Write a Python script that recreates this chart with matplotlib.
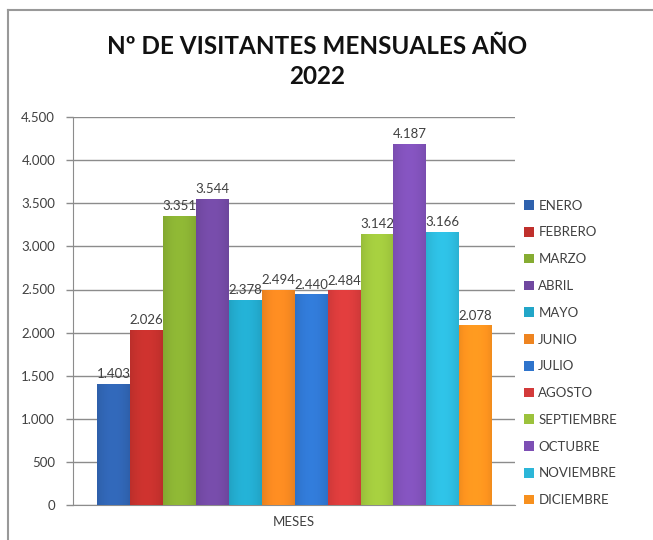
import numpy as np
import matplotlib.pyplot as plt
import matplotlib.colors as mcolors
from matplotlib.patches import Patch
from matplotlib.lines import Line2D
from matplotlib.ticker import FuncFormatter, MultipleLocator

plt.rcParams['font.family'] = ['Lato', 'DejaVu Sans']

meses = ['ENERO', 'FEBRERO', 'MARZO', 'ABRIL', 'MAYO', 'JUNIO', 'JULIO',
         'AGOSTO', 'SEPTIEMBRE', 'OCTUBRE', 'NOVIEMBRE', 'DICIEMBRE']
visitantes = [1403, 2026, 3351, 3544, 2378, 2494, 2440, 2484, 3142, 4187, 3166, 2078]
colores = ['#2f62ae', '#c0302c', '#86ac32', '#7048a0', '#22a6c8', '#ee8420',
           '#2f74cc', '#d33a3a', '#9cc23c', '#7d4fb4', '#2cb6d8', '#f7901e']

fig = plt.figure(figsize=(6.53, 5.4), dpi=100)
ax = fig.add_axes([0.112, 0.065, 0.677, 0.718])

x = np.arange(len(meses))
bars = ax.bar(x, visitantes, width=1.0, color=colores, edgecolor='none', zorder=2)

# horizontal shading on each bar, like the office 3d-ish look
grad = np.linspace(-1, 1, 64)
shade = 1 - 0.35 * grad**2
for b, c in zip(bars, colores):
    rgb = np.array(mcolors.to_rgb(c))
    img = rgb[None, None, :] * (0.72 + 0.28 * shade)[None, :, None]
    img = np.clip(img * 1.08, 0, 1)
    bx, bw, bh = b.get_x(), b.get_width(), b.get_height()
    ax.imshow(img, extent=(bx, bx + bw, 0, bh), aspect='auto', zorder=3,
              interpolation='bicubic')
    b.set_visible(False)
    ax.annotate(f'{bh:,.0f}'.replace(',', '.'), (bx + bw / 2, bh),
                xytext=(0, 3), textcoords='offset points', ha='center',
                va='bottom', fontsize=9.5, color='#404040', zorder=4)

ax.set_xlim(-1.23, 12.2)
ax.set_ylim(0, 4500)
ax.yaxis.set_major_locator(MultipleLocator(500))
ax.yaxis.set_major_formatter(FuncFormatter(lambda v, p: f'{v:,.0f}'.replace(',', '.')))
ax.grid(axis='y', color='#8c8c8c', linewidth=1.0, zorder=0)
ax.set_xticks([])
ax.set_xlabel('MESES', fontsize=9.5, color='#404040', labelpad=8)
ax.tick_params(axis='y', labelsize=9.5, colors='#404040', length=5, width=1,
               color='#8c8c8c', pad=8)
for s in ['top', 'right']:
    ax.spines[s].set_visible(False)
for s in ['left', 'bottom']:
    ax.spines[s].set_color('#8c8c8c')

fig.text(0.485, 0.886, 'Nº DE VISITANTES MENSUALES AÑO\n2022', ha='center',
         va='center', fontsize=17.5, fontweight='bold', color='#111111',
         linespacing=1.35)

handles = [Patch(facecolor=c, edgecolor='none') for c in colores]
ax.legend(handles, meses, loc='upper left', bbox_to_anchor=(0.795, 0.64),
          bbox_transform=fig.transFigure, frameon=False, fontsize=9.5,
          labelcolor='#404040', handlelength=0.75, handleheight=0.75,
          handletextpad=0.3, labelspacing=1.12, borderaxespad=0)

# frame lines of the original chart area
fig.add_artist(Line2D([0.012, 0.012], [0, 0.982], color='#999999', lw=1.5,
                      transform=fig.transFigure))
fig.add_artist(Line2D([0.012, 1.0], [0.982, 0.982], color='#999999', lw=1.5,
                      transform=fig.transFigure))

fig.savefig('out.png', dpi=100)
